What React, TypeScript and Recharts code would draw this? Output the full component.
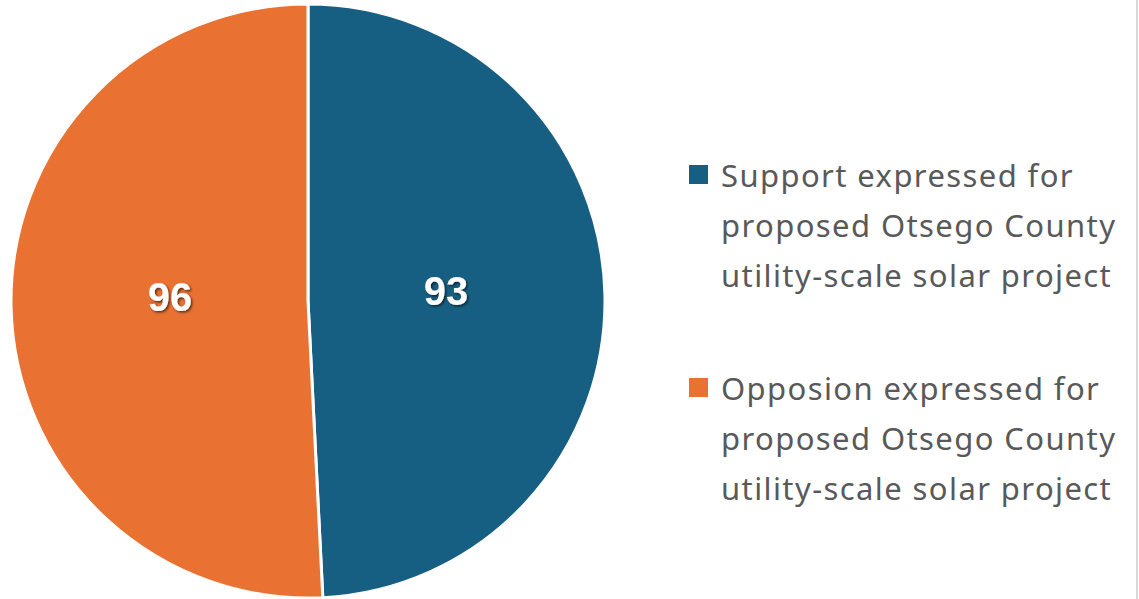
import { PieChart, Pie, Cell, Legend } from "recharts";

const categories = [
  "Support expressed for proposed Otsego County utility-scale solar project",
  "Opposion expressed for proposed Otsego County utility-scale solar project",
];
const legendLines = [
  ["Support expressed for", "proposed Otsego County", "utility-scale solar project"],
  ["Opposion expressed for", "proposed Otsego County", "utility-scale solar project"],
];
const counts = [93, 96];
const colors = ["#175f82", "#e97132"];

const data = categories.map((name, i) => ({ name, value: counts[i] }));

const RADIAN = Math.PI / 180;

const renderLabel = (props: any) => {
  const { cx, cy, midAngle, outerRadius, value } = props;
  const r = outerRadius * 0.465;
  const x = cx + r * Math.cos(-midAngle * RADIAN);
  const y = cy + r * Math.sin(-midAngle * RADIAN) - 7;
  return (
    <text
      x={x}
      y={y}
      fill="#ffffff"
      textAnchor="middle"
      dominantBaseline="central"
      fontFamily="'Liberation Sans', Arial, sans-serif"
      fontWeight="bold"
      fontSize={40}
      filter="url(#labelShadow)"
    >
      {value}
    </text>
  );
};

const LegendContent = () => (
  <div style={{ fontFamily: "'Noto Sans', sans-serif", color: "#595959" }}>
    {legendLines.map((lines, i) => (
      <div key={i} style={{ display: "flex", marginBottom: i === 0 ? 63 : 0 }}>
        <div
          style={{
            width: 19,
            height: 19,
            background: colors[i],
            marginTop: 15,
            marginRight: 13,
            flexShrink: 0,
          }}
        />
        <div style={{ fontSize: 31, lineHeight: "50px", letterSpacing: 1.4 }}>
          {lines.map((l) => (
            <div key={l} style={{ whiteSpace: "nowrap" }}>
              {l}
            </div>
          ))}
        </div>
      </div>
    ))}
  </div>
);

export default function App() {
  return (
    <div
      style={{
        position: "absolute",
        left: 0,
        top: 0,
        width: 1139,
        height: 599,
        background: "#ffffff",
      }}
    >
      <PieChart width={1139} height={599} margin={{ top: 0, right: 0, bottom: 0, left: 0 }}>
        <defs>
          <filter id="labelShadow" x="-20%" y="-20%" width="140%" height="140%">
            <feDropShadow dx="1.5" dy="1.5" stdDeviation="1" floodColor="#000" floodOpacity="0.6" />
          </filter>
        </defs>
        <Pie
          data={data}
          dataKey="value"
          nameKey="name"
          cx={308}
          cy={301}
          outerRadius={297}
          startAngle={90}
          endAngle={-270}
          stroke="#ffffff"
          strokeWidth={3}
          label={renderLabel}
          labelLine={false}
          isAnimationActive={false}
        >
          {data.map((d, i) => (
            <Cell key={d.name} fill={colors[i]} />
          ))}
        </Pie>
        <Legend
          layout="vertical"
          content={<LegendContent />}
          wrapperStyle={{ left: 689, top: 150, width: 445 }}
        />
      </PieChart>
      <div
        style={{
          position: "absolute",
          left: 1136,
          top: 0,
          width: 2,
          height: 599,
          background: "#d9d9d9",
        }}
      />
    </div>
  );
}
